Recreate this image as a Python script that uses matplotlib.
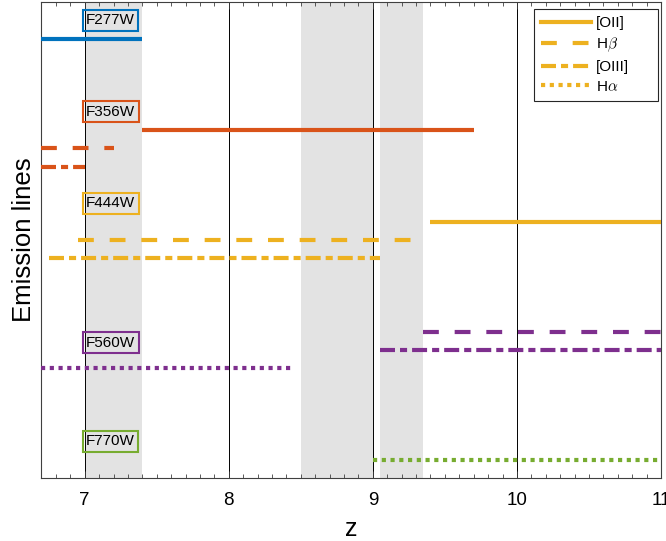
import numpy as np
import matplotlib.pyplot as plt
from matplotlib.ticker import MultipleLocator

plt.rcParams['font.family'] = ['Liberation Sans', 'DejaVu Sans']
plt.rcParams['mathtext.fontset'] = 'cm'

# filter colours (MATLAB default order)
c_blue = '#0072BD'
c_orange = '#D95319'
c_yellow = '#EDB120'
c_purple = '#7E2F8E'
c_green = '#77AC30'

filters = ['F277W', 'F356W', 'F444W', 'F560W', 'F770W']
filter_colors = [c_blue, c_orange, c_yellow, c_purple, c_green]
filter_level = [5, 4, 3, 2, 1]
label_y = [5.2, 4.2, 3.2, 1.68, 0.6]
label_x = 7.18

lines_names = ['[OII]', r'H$\beta$', '[OIII]', r'H$\alpha$']
# redshift ranges [zmin, zmax] in which each line falls in each filter
# (filter index, line index, zmin, zmax)
segments = [
    (0, 0, 6.7, 7.4),
    (1, 0, 7.4, 9.7),
    (1, 1, 6.7, 7.2),
    (1, 2, 6.7, 7.0),
    (2, 0, 9.4, 11.0),
    (2, 1, 6.95, 9.3),
    (2, 2, 6.75, 9.05),
    (3, 1, 9.35, 11.0),
    (3, 2, 9.05, 11.0),
    (3, 3, 6.7, 8.45),
    (4, 3, 9.0, 11.0),
]
offset = 0.2

# gaps between filters
gaps = [(7.0, 7.4), (8.5, 9.0), (9.05, 9.35)]
grid_z = [7, 8, 9, 10]

lw = 3
styles = ['-', (0, (3.8, 3.8)), (0, (3.6, 1.2, 1.7, 1.2)), (0, (1.0, 1.1))]

fig = plt.figure(figsize=(6.66, 5.41), dpi=100)
ax = fig.add_axes([0.0623, 0.1165, 0.9302, 0.8798])

for a, b in gaps:
    ax.axvspan(a, b, color='#e3e3e3', lw=0, zorder=0)
for z in grid_z:
    ax.axvline(z, color='k', lw=0.7, zorder=1)

for fi, li, z0, z1 in segments:
    y = filter_level[fi] - offset * li
    ax.plot([z0, z1], [y, y], color=filter_colors[fi], lw=lw,
            linestyle=styles[li], solid_capstyle='butt', dash_capstyle='butt', zorder=3)

for name, col, yy in zip(filters, filter_colors, label_y):
    ax.text(label_x, yy, name, ha='center', va='center', fontsize=11,
            bbox=dict(boxstyle='square,pad=0.22', fc='none', ec=col, lw=1.5), zorder=4)

# legend handles drawn in yellow
handles = []
for li, name in enumerate(lines_names):
    h, = ax.plot([], [], color=c_yellow, lw=lw, linestyle=styles[li], label=name)
    handles.append(h)
leg = ax.legend(handles=handles, loc='upper right', mode='expand', fontsize=11,
                frameon=True, fancybox=False, edgecolor='#262626', framealpha=1,
                handlelength=3.3, borderaxespad=0, labelspacing=0.38,
                handletextpad=0.3, borderpad=0.45,
                bbox_to_anchor=(0.795, 0.5, 0.1995, 0.485))
leg.get_frame().set_linewidth(0.8)

ax.set_xlim(6.7, 11)
ax.set_ylim(0.2, 5.4)
ax.set_xticks([7, 8, 9, 10, 11])
ax.xaxis.set_minor_locator(MultipleLocator(0.1))
ax.set_yticks([])
ax.tick_params(axis='x', which='both', direction='in', top=True, bottom=True,
               color='#404040', labelsize=13.5, width=0.6, pad=10)
ax.tick_params(axis='x', which='major', length=5)
ax.tick_params(axis='x', which='minor', length=3)
for s in ax.spines.values():
    s.set_color('#404040')
    s.set_linewidth(0.8)
ax.set_xlabel('z', fontsize=18, labelpad=6)
ax.set_ylabel('Emission lines', fontsize=18.5, labelpad=4)

fig.savefig('out.png', dpi=100)
